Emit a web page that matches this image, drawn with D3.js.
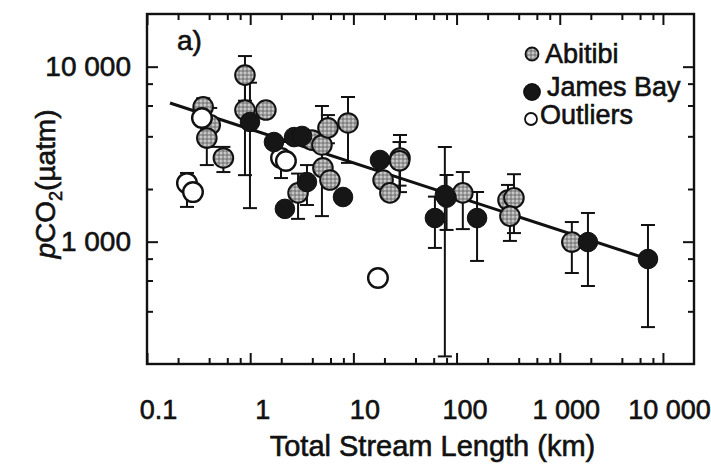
<!DOCTYPE html>
<html>
<head>
<meta charset="utf-8">
<script src="https://cdn.jsdelivr.net/npm/d3@7"></script>
<style>
  body { margin: 0; background: #fff; }
  svg text { font-family: "Liberation Sans", Arial, sans-serif; fill: #111; }
</style>
</head>
<body>
<svg id="chart" width="711" height="464"></svg>
<script>
// Abitibi lakes: total stream length (km), pCO2 (uatm), error bar ends
const abitibiLength = [0.35, 0.41, 0.38, 0.55, 0.89, 0.89, 1.42, 3.97, 4.96, 5.67, 8.87, 5.07, 5.93, 2.91, 28.3, 28, 19.4, 22.6, 115, 315, 360, 329, 1310];
const abitibiPco2   = [5890, 4650, 3910, 3010, 8950, 5650, 5650, 3810, 3570, 4470, 4770, 2640, 2250, 1900, 3010, 2900, 2250, 1900, 1900, 1730, 1780, 1400, 995];
const abitibiLow    = [5200, 3480, 2740, 2500, 6390, 2400, null, null, 1400, 3650, 2820, null, null, 1350, 1920, 2090, null, null, 1180, 1350, 1120, 1010, 662];
const abitibiHigh   = [6600, 5810, 5080, 3480, 11500, 8900, null, null, 5960, 5290, 6710, null, null, 2450, 4070, 3710, null, null, 2500, 2110, 2430, 1800, 1295];

// James Bay lakes
const jamesLength = [0.995, 1.70, 2.66, 3.18, 2.17, 3.55, 7.93, 18.1, 80, 77, 61.7, 158, 1876, 7160];
const jamesPco2   = [4830, 3710, 3960, 4020, 1540, 2190, 1800, 2930, 1785, 1850, 1365, 1365, 995, 796];
const jamesLow    = [1555, null, null, null, null, 1620, null, null, 1167, 221, 921, 776, 558, 325];
const jamesHigh   = [8100, null, null, null, null, 2740, null, null, 2404, 3475, 1809, 1922, 1459, 1245];

// Outliers
const outlierLength = [0.341, 0.244, 0.279, 1.99, 2.22, 17.3];
const outlierPco2   = [5090, 2160, 1920, 3010, 2890, 620];
const outlierLow    = [null, 1580, null, 2310, null, null];
const outlierHigh   = [null, 2470, null, 3710, null, null];

// regression line end points
const fitLength = [0.167, 7160];
const fitPco2 = [6200, 796];

const xMajor = [0.1, 1, 10, 100, 1000, 10000];
const xTickLabels = ['0.1', '1', '10', '100', '1 000', '10 000'];
const yMajor = [1000, 10000];
const yTickLabels = ['1 000', '10 000'];
const xMinor = [0.2, 0.4, 0.6, 0.8, 2, 4, 6, 8, 20, 40, 60, 80, 200, 400, 600, 800, 2000, 4000, 6000, 8000];
const yMinor = [400, 600, 800, 2000, 4000, 6000, 8000];

const svg = d3.select('#chart');
const plotLeft = 147, plotRight = 694, plotTop = 14, plotBottom = 364;
// labels under the x ticks sit a little right of their ticks in the original
const xLabelShift = [11, 12, 11, 8, 6, 6];

const x = d3.scaleLog().domain([0.1, 20000]).range([plotLeft, plotRight]);
const y = d3.scaleLog().domain([200, 20000]).range([plotBottom, plotTop]);

// stippled grey fill for Abitibi markers
const pat = svg.append('defs').append('pattern')
  .attr('id', 'stipple')
  .attr('width', 4)
  .attr('height', 4)
  .attr('patternUnits', 'userSpaceOnUse');
pat.append('rect').attr('width', 4).attr('height', 4).attr('fill', '#9c9c9c');
pat.append('circle').attr('cx', 1).attr('cy', 1).attr('r', 0.9).attr('fill', '#dcdcdc');
pat.append('circle').attr('cx', 3).attr('cy', 3).attr('r', 0.7).attr('fill', '#505050');

function tickAxis(axis, transform, size, shift) {
  svg.append('g')
    .attr('transform', transform)
    .call(axis)
    .call((g) => g.select('.domain').remove())
    .call((g) => g.selectAll('.tick line').attr('stroke', '#111').attr('stroke-width', 2))
    .call((g) => g.selectAll('text')
      .style('font-size', (size || 28) + 'px')
      .style('font-family', '"Liberation Sans", Arial, sans-serif')
      .attr('fill', '#111')
      .attr('stroke', '#111')
      .attr('stroke-width', 0.6)
      .attr('dx', (d, i) => (shift ? shift[i] : 0)));
}

// minor ticks on all four sides
tickAxis(d3.axisBottom(x).tickValues(xMinor).tickSize(-6).tickFormat(''), `translate(0,${plotBottom})`);
tickAxis(d3.axisTop(x).tickValues(xMinor).tickSize(-6).tickFormat(''), `translate(0,${plotTop})`);
tickAxis(d3.axisLeft(y).tickValues(yMinor).tickSize(-6).tickFormat(''), `translate(${plotLeft},0)`);
tickAxis(d3.axisRight(y).tickValues(yMinor).tickSize(-6).tickFormat(''), `translate(${plotRight},0)`);

// major ticks
tickAxis(d3.axisBottom(x).tickValues(xMajor).tickSize(-11).tickPadding(36).tickFormat((d, i) => xTickLabels[i]), `translate(0,${plotBottom})`, 27, xLabelShift);
tickAxis(d3.axisTop(x).tickValues(xMajor).tickSize(-11).tickFormat(''), `translate(0,${plotTop})`);
tickAxis(d3.axisLeft(y).tickValues(yMajor).tickSize(-11).tickPadding(16).tickFormat((d, i) => yTickLabels[i]), `translate(${plotLeft},0)`, 28);
tickAxis(d3.axisRight(y).tickValues(yMajor).tickSize(-11).tickFormat(''), `translate(${plotRight},0)`);

svg.append('rect')
  .attr('x', plotLeft)
  .attr('y', plotTop)
  .attr('width', plotRight - plotLeft)
  .attr('height', plotBottom - plotTop)
  .attr('fill', 'none')
  .attr('stroke', '#111')
  .attr('stroke-width', 2.4);

// error bars
function errorBars(lengths, values, lows, highs) {
  const g = svg.append('g').attr('stroke', '#111').attr('stroke-width', 2);
  lengths.forEach((L, i) => {
    const cx = x(L);
    [lows[i], highs[i]].filter((v) => v !== null).forEach((v) => {
      g.append('line').attr('x1', cx).attr('x2', cx).attr('y1', y(values[i])).attr('y2', y(v));
      g.append('line').attr('x1', cx - 7).attr('x2', cx + 7).attr('y1', y(v)).attr('y2', y(v));
    });
  });
}
errorBars(abitibiLength, abitibiPco2, abitibiLow, abitibiHigh);
errorBars(jamesLength, jamesPco2, jamesLow, jamesHigh);
errorBars(outlierLength, outlierPco2, outlierLow, outlierHigh);

// regression line
svg.append('path')
  .datum(fitLength.map((L, i) => [L, fitPco2[i]]))
  .attr('d', d3.line().x((d) => x(d[0])).y((d) => y(d[1])))
  .attr('fill', 'none')
  .attr('stroke', '#111')
  .attr('stroke-width', 3);

function points(lengths, values, fill, strokeW) {
  svg.append('g')
    .selectAll('circle')
    .data(lengths.map((L, i) => [L, values[i]]))
    .enter()
    .append('circle')
    .attr('cx', (d) => x(d[0]))
    .attr('cy', (d) => y(d[1]))
    .attr('r', 9.8)
    .attr('fill', fill)
    .attr('stroke', '#111')
    .attr('stroke-width', strokeW);
}
points(abitibiLength, abitibiPco2, 'url(#stipple)', 2);
points(outlierLength, outlierPco2, '#fff', 2.4);
points(jamesLength, jamesPco2, '#161616', 1);

// legend
const legend = svg.append('g');
const legendItems = [
  { label: 'Abitibi', fill: 'url(#stipple)', r: 6.5, cx: 532, cy: 54, tx: 545, ty: 63 },
  { label: 'James Bay', fill: '#161616', r: 8, cx: 532, cy: 92, tx: 547, ty: 96 },
  { label: 'Outliers', fill: '#fff', r: 6, cx: 531, cy: 119, tx: 540, ty: 124 }
];
legend.selectAll('circle')
  .data(legendItems)
  .enter()
  .append('circle')
  .attr('cx', (d) => d.cx)
  .attr('cy', (d) => d.cy)
  .attr('r', (d) => d.r)
  .attr('fill', (d) => d.fill)
  .attr('stroke', '#111')
  .attr('stroke-width', 1.8);
legend.selectAll('text')
  .data(legendItems)
  .enter()
  .append('text')
  .attr('x', (d) => d.tx)
  .attr('y', (d) => d.ty)
  .attr('stroke', '#111')
  .attr('stroke-width', 0.6)
  .style('font-size', '27px')
  .text((d) => d.label);

svg.append('text')
  .attr('x', 177)
  .attr('y', 50)
  .attr('stroke', '#111')
  .attr('stroke-width', 0.6)
  .style('font-size', '28px')
  .text('a)');

svg.append('text')
  .attr('x', (plotLeft + plotRight) / 2 + 12)
  .attr('y', 456)
  .attr('text-anchor', 'middle')
  .attr('stroke', '#111')
  .attr('stroke-width', 0.6)
  .style('font-size', '29px')
  .text('Total Stream Length (km)');

const yTitle = svg.append('text')
  .attr('transform', 'translate(55,184) rotate(-90)')
  .attr('text-anchor', 'middle')
  .attr('stroke', '#111')
  .attr('stroke-width', 0.6)
  .style('font-size', '28px');
yTitle.append('tspan').style('font-style', 'italic').text('p');
yTitle.append('tspan').text('CO');
yTitle.append('tspan').attr('dy', 7).style('font-size', '18px').text('2');
yTitle.append('tspan').attr('dy', -7).text('(µatm)');
</script>
</body>
</html>
